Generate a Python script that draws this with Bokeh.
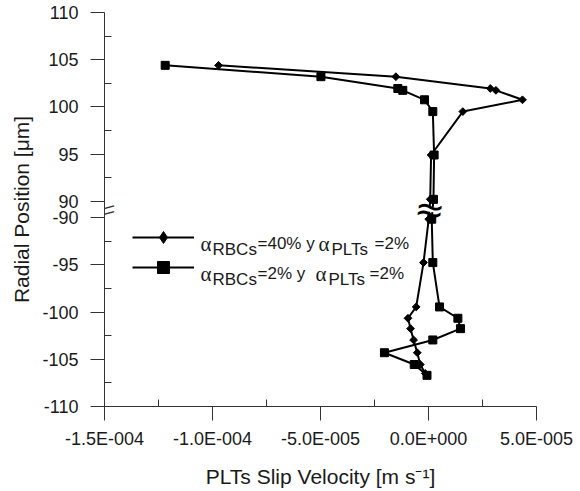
import numpy as np
from bokeh.plotting import figure
from bokeh.models import (Range1d, FixedTicker, CustomJSTickFormatter, Label, Legend,
                          LegendItem, ColumnDataSource)
from bokeh.core.properties import value
from bokeh.embed import file_html
from bokeh.resources import INLINE

# ---------------- data ----------------
rbc40_velocity = [-9.72e-5, -1.51e-5, 2.86e-5, 3.12e-5, 4.35e-5, 1.59e-5, 1.2e-6, 0.8e-6,
                  0.1e-6, -2.3e-6, -5.7e-6, -9.5e-6, -8.3e-6, -6.9e-6, -5.2e-6, -3.8e-6, -1.5e-6]
rbc40_radius = [104.4, 103.2, 101.95, 101.75, 100.75, 99.5, 94.9, 90.2,
                -90.15, -94.75, -99.45, -100.65, -101.75, -102.95, -104.3, -105.55, -106.5]

rbc2_velocity = [-1.219e-4, -4.98e-5, -1.42e-5, -1.19e-5, -1.85e-6, 2.0e-6, 2.6e-6, 2.3e-6,
                 1.5e-6, 2.0e-6, 5.1e-6, 1.36e-5, 1.48e-5, 2.0e-6, -2.04e-5, -6.6e-6, -0.7e-6]
rbc2_radius = [104.4, 103.2, 101.95, 101.75, 100.75, 99.5, 94.9, 90.2,
               -90.15, -94.75, -99.45, -100.65, -101.75, -102.95, -104.3, -105.55, -106.7]

x_ticks = [-1.5e-4, -1.0e-4, -5.0e-5, 0.0, 5.0e-5]
x_tick_labels = ["-1.5E-004", "-1.0E-004", "-5.0E-005", "0.0E+000", "5.0E-005"]
x_minor_ticks = [-1.25e-4, -7.5e-5, -2.5e-5, 2.5e-5]

y_ticks = [-110, -105, -100, -95, -90, 90, 95, 100, 105, 110]
y_tick_labels = ["-110", "-105", "-100", "-95", "-90", "90", "95", "100", "105", "110"]
y_minor_ticks = [-107.5, -102.5, -97.5, -92.5, 92.5, 97.5, 102.5, 107.5]

x_title = "PLTs Slip Velocity [m s\u207b\u00b9]"
y_title = "Radial Position [\u03bcm]"

# ---------------- broken y axis: 90..110 stacked above -110..-90 ----------------
GAP = 1.75


def to_plot(r):
    return r - 90 + GAP if r > 0 else r + 90


X0, X1 = -1.5e-4, 5e-5
Y0, Y1 = -20.0, 20.0 + GAP

FONT = "Liberation Sans"
TXT = "#1a1a1a"
AX = "#333333"

# frame geometry in page pixels (canvas sits at the page's top-left)
FL, FT, FR, FB = 104, 12, 536, 407
W, H = 580, 490

p = figure(width=W, height=H, x_range=Range1d(X0, X1), y_range=Range1d(Y0, Y1),
           output_backend="svg", toolbar_location=None,
           min_border_left=FL, min_border_right=W - FR, min_border_top=FT,
           min_border_bottom=H - FB)
p.outline_line_color = None
p.xgrid.visible = False
p.ygrid.visible = False
p.background_fill_color = "white"
p.border_fill_color = "white"


def px_x(px):
    return X0 + (px - FL) / (FR - FL) * (X1 - X0)


def px_y(py):
    return Y1 - (py - FT) / (FB - FT) * (Y1 - Y0)


LOOKUP = """
let best = -1;
for (let i = 0; i < tv.length; i++) { if (Math.abs(tv[i] - tick) < tol) { best = i; } }
return best >= 0 ? tl[best] : "";
"""

# x axis
xa = p.xaxis[0]
xa.ticker = FixedTicker(ticks=x_ticks, minor_ticks=x_minor_ticks)
xa.formatter = CustomJSTickFormatter(args=dict(tv=x_ticks, tl=x_tick_labels, tol=1e-12),
                                     code=LOOKUP)
xa.axis_label = x_title
xa.major_label_standoff = 8
xa.axis_label_standoff = 13

# y axis
ya = p.yaxis[0]
y_plot_ticks = [to_plot(v) for v in y_ticks]
ya.ticker = FixedTicker(ticks=y_plot_ticks, minor_ticks=[to_plot(v) for v in y_minor_ticks])
ya.formatter = CustomJSTickFormatter(args=dict(tv=y_plot_ticks, tl=y_tick_labels, tol=1e-9),
                                     code=LOOKUP)
ya.axis_label = y_title
ya.major_label_standoff = 12
ya.axis_label_standoff = 6

for ax in (xa, ya):
    ax.axis_line_color = AX
    ax.major_tick_line_color = AX
    ax.minor_tick_line_color = AX
    ax.major_tick_in = 0
    ax.major_tick_out = 14
    ax.minor_tick_in = 7
    ax.minor_tick_out = 0
    ax.major_label_text_font = FONT
    ax.major_label_text_font_size = "18px"
    ax.major_label_text_color = TXT
    ax.axis_label_text_font = FONT
    ax.axis_label_text_font_size = "21px"
    ax.axis_label_text_font_style = "normal"
    ax.axis_label_text_color = TXT

# ---------------- data series ----------------
src40 = ColumnDataSource(dict(x=rbc40_velocity, y=[to_plot(r) for r in rbc40_radius]))
src2 = ColumnDataSource(dict(x=rbc2_velocity, y=[to_plot(r) for r in rbc2_radius]))

p.line("x", "y", source=src40, line_color="black", line_width=2)
p.scatter("x", "y", source=src40, marker="square", angle=np.pi / 4, size=5.5,
          fill_color="black", line_color="black")
p.line("x", "y", source=src2, line_color="black", line_width=2)
p.scatter("x", "y", source=src2, marker="square", size=8,
          fill_color="black", line_color="black")

# ---------------- break symbols ----------------
brk_y = GAP / 2
# axis break "//"
for dy in (-2.9, 2.9):
    p.add_layout(Label(x=X0, y=brk_y, y_offset=-dy, text="\u2014", text_font=FONT,
                       text_font_size="19px", text_color=AX, angle=0.27,
                       text_align="center", text_baseline="middle"))
# data break squiggle
brk_x = (rbc40_velocity[7] + rbc2_velocity[7]) / 2
p.rect(x=[brk_x], y=[brk_y], width=26, height=5, width_units="screen", height_units="screen",
       angle=-0.15, fill_color="white", line_color=None)
p.add_layout(Label(x=brk_x, y=brk_y, x_offset=-2, text="\u2248", text_font="DejaVu Sans",
                   text_font_size="36px", text_color="black", angle=-0.15,
                   text_align="center", text_baseline="middle"))

# ---------------- legend ----------------
dummy1 = ColumnDataSource(dict(x=[np.nan], y=[np.nan]))
dummy2 = ColumnDataSource(dict(x=[np.nan], y=[np.nan]))
l1 = p.line("x", "y", source=dummy1, line_color="black", line_width=2)
m1 = p.scatter("x", "y", source=dummy1, marker="diamond", size=12,
               fill_color="black", line_color="black")
l2 = p.line("x", "y", source=dummy2, line_color="black", line_width=2)
m2 = p.scatter("x", "y", source=dummy2, marker="square", size=12,
               fill_color="black", line_color="black")
legend = Legend(items=[LegendItem(label=value(" "), renderers=[l1, m1]),
                       LegendItem(label=value(" "), renderers=[l2, m2])],
                location=(28, 124), glyph_width=62, glyph_height=30, label_height=30,
                label_width=1, label_standoff=0, spacing=0, padding=0, margin=0,
                border_line_alpha=0, background_fill_alpha=0, label_text_font_size="1px")
p.add_layout(legend)

legend_rows = [
    [("\u03b1", 200, 0), ("RBCs", 212, 6), ("=40% y", 257, 0), ("\u03b1", 318, 0),
     ("PLTs", 331, 6), ("=2%", 374, 0)],
    [("\u03b1", 200, 0), ("RBCs", 212, 6), ("=2% y", 257, 0), ("\u03b1", 315, 0),
     ("PLTs", 328, 6), ("=2%", 369, 0)],
]
row_baselines = [244, 274]
for row, base in zip(legend_rows, row_baselines):
    for txt, px, drop in row:
        is_alpha = txt == "\u03b1"
        p.add_layout(Label(x=px_x(px), y=px_y(base + drop), text=txt,
                           text_font="Liberation Serif" if is_alpha else FONT,
                           text_font_size="21px" if is_alpha else "17px",
                           text_color=TXT, text_align="left", text_baseline="alphabetic"))

open("out.html", "w").write(file_html(p, INLINE))
